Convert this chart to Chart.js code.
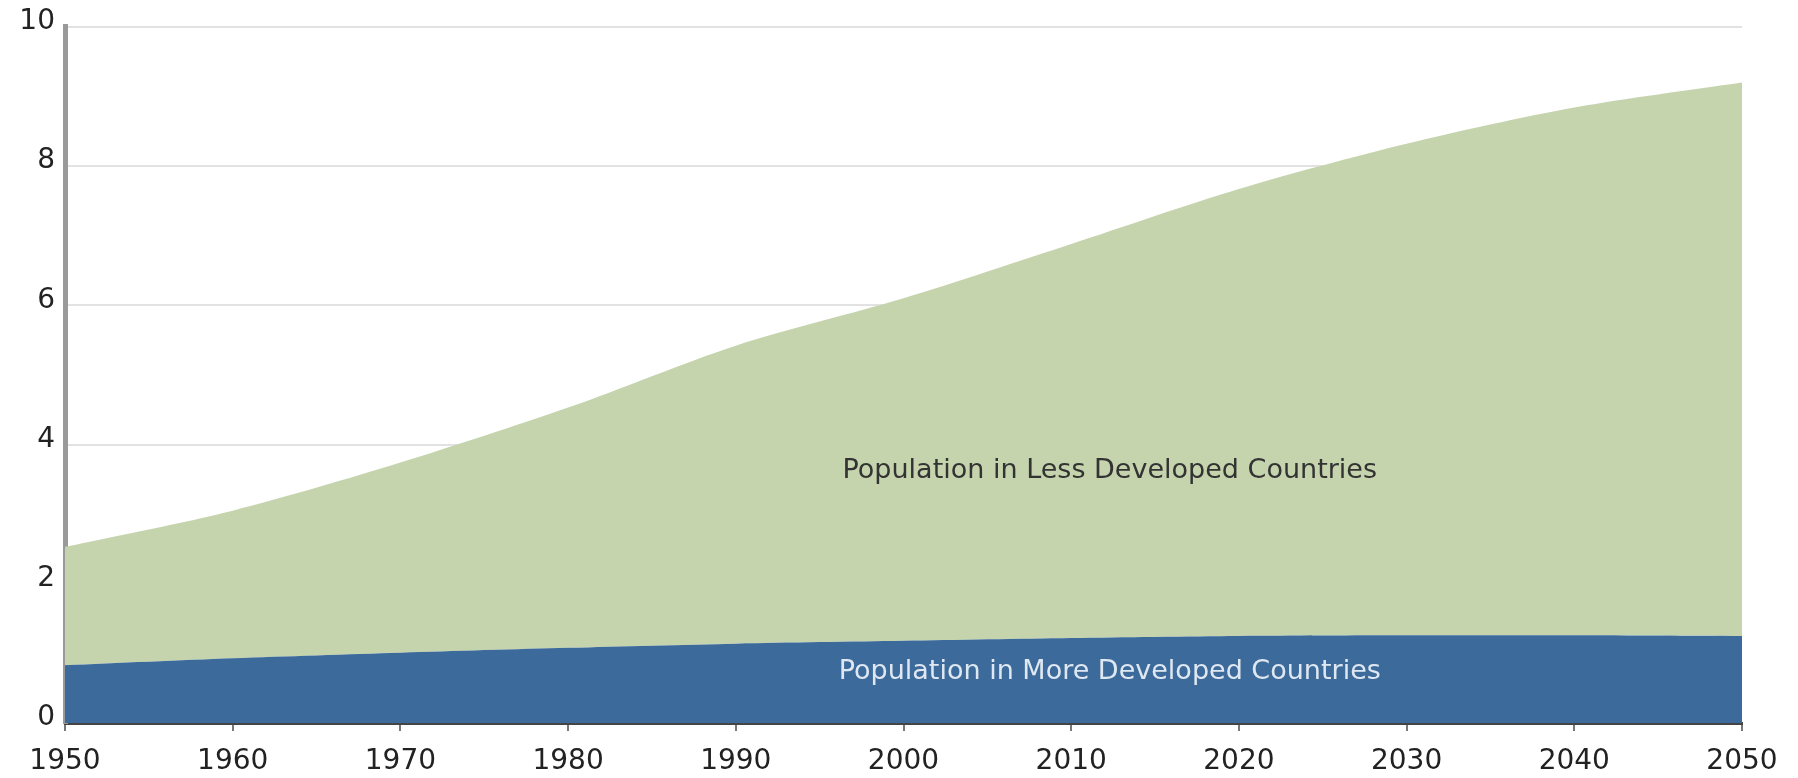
<!DOCTYPE html>
<html>
<head>
<meta charset="utf-8">
<script src="https://cdn.jsdelivr.net/npm/chart.js@4"></script>
<style>
  html, body { margin: 0; padding: 0; background: #fff; }
  #wrap { width: 1798px; height: 778px; }
</style>
</head>
<body>
<div id="wrap"><canvas id="myChart" width="1798" height="778"></canvas></div>
<script>
// population, billions
const years = [1950, 1960, 1970, 1980, 1990, 2000, 2010, 2020, 2030, 2040, 2050];
const moreDeveloped = [0.83, 0.93, 1.01, 1.08, 1.14, 1.18, 1.22, 1.25, 1.26, 1.26, 1.25];
const lessDeveloped = [1.70, 2.12, 2.73, 3.45, 4.28, 4.92, 5.66, 6.42, 7.06, 7.58, 7.95];
const yTicks = [0, 2, 4, 6, 8, 10];

const areaLabels = [
    { text: 'Population in Less Developed Countries', x: 2012.3, y: 3.62, color: '#333333' },
    { text: 'Population in More Developed Countries', x: 2012.3, y: 0.73, color: '#dfe8f2' }
];

function toPoints(values) {
    return values.map(function(v, i) {
        return { x: years[i], y: v };
    });
}

const labelPlugin = {
    id: 'areaLabels',
    afterDatasetsDraw: function(chart) {
        const ctx = chart.ctx;
        const xs = chart.scales.x;
        const ys = chart.scales.y;
        ctx.save();
        ctx.font = '27px "DejaVu Sans"';
        ctx.textAlign = 'center';
        ctx.textBaseline = 'middle';
        areaLabels.forEach(function(l) {
            ctx.fillStyle = l.color;
            ctx.fillText(l.text, xs.getPixelForValue(l.x), ys.getPixelForValue(l.y));
        });
        ctx.restore();
    }
};

const ctx = document.getElementById('myChart').getContext('2d');
new Chart(ctx, {
    type: 'line',
    data: {
        datasets: [
            {
                label: 'Population in More Developed Countries',
                data: toPoints(moreDeveloped),
                backgroundColor: '#3c6a9a',
                borderWidth: 0,
                pointRadius: 0,
                fill: 'origin',
                tension: 0.3
            },
            {
                label: 'Population in Less Developed Countries',
                data: toPoints(lessDeveloped),
                backgroundColor: '#c5d4ad',
                borderWidth: 0,
                pointRadius: 0,
                fill: '-1',
                tension: 0.3
            }
        ]
    },
    options: {
        responsive: false,
        animation: false,
        layout: { padding: { top: 19, right: 56, left: 0, bottom: 0 } },
        plugins: {
            legend: { display: false },
            tooltip: { enabled: false }
        },
        scales: {
            x: {
                type: 'linear',
                min: 1950,
                max: 2050,
                afterFit: function(s) { s.height = 55; },
                ticks: {
                    stepSize: 10,
                    color: '#222',
                    font: { family: 'DejaVu Sans', size: 28 },
                    padding: 14,
                    callback: function(v) { return String(v); }
                },
                grid: {
                    drawOnChartArea: false,
                    drawTicks: true,
                    tickLength: 8,
                    tickColor: '#777',
                    lineWidth: 2
                },
                border: { color: '#444', width: 3 }
            },
            y: {
                stacked: true,
                min: 0,
                max: 10,
                afterFit: function(s) { s.width = 65; },
                afterBuildTicks: function(s) {
                    s.ticks = yTicks.map(function(v) { return { value: v }; });
                },
                ticks: {
                    color: '#222',
                    font: { family: 'DejaVu Sans', size: 28 },
                    padding: 10,
                    labelOffset: -5
                },
                grid: {
                    color: '#e2e2e2',
                    lineWidth: 2,
                    drawTicks: false
                },
                border: { color: '#999', width: 5 }
            }
        }
    },
    plugins: [labelPlugin]
});
</script>
</body>
</html>
